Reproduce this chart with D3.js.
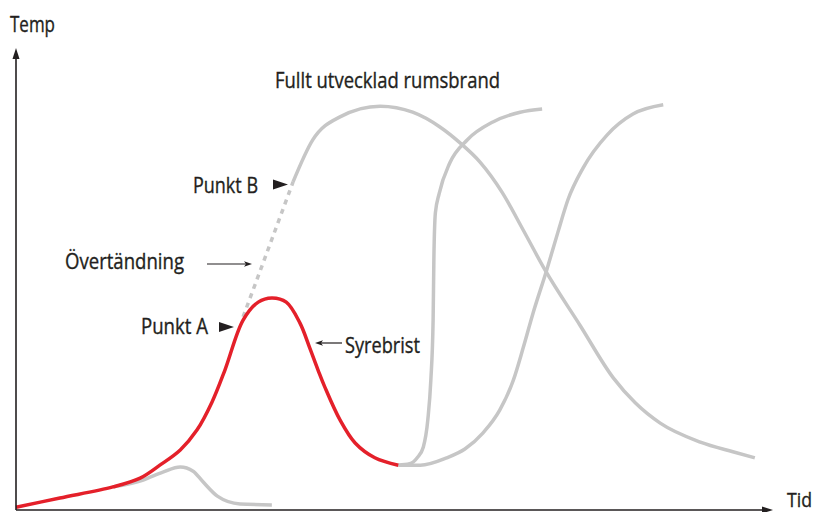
<!DOCTYPE html>
<html>
<head>
<meta charset="utf-8">
<script src="https://cdn.jsdelivr.net/npm/d3@7"></script>
<style>
  body { margin: 0; background: #fff; }
  text { font-family: "Open Sans", "Noto Sans", sans-serif; fill: #231f20; stroke: #231f20; stroke-width: 0.35px; }
</style>
</head>
<body>
<script>
// brandförlopp, tid (0-100) mot temp (0-100)
const growth = [[0,0.6],[5.8,2.6],[12.8,5.0],[16.4,6.9],[19.0,9.7],[21.7,13.0],[23.9,17.3],
  [25.9,23.4],[27.6,30.3],[30.0,41.1],[32.0,45.0],[33.8,45.9],[35.7,45.0],[37.5,40.5],
  [38.8,35.1],[39.9,30.3],[40.8,26.6],[42.8,19.5],[44.8,14.5],[47.4,11.3],[50.5,9.7]];
const smoulder = [[12.8,5.0],[16.8,6.5],[19.4,8.2],[21.7,9.3],[23.4,8.4],[24.7,6.1],
  [26.6,3.0],[29.6,1.3],[33.8,1.1]];
const flashover = [[30.0,41.8],[36.6,71.0]];
const fullyDeveloped = [[36.6,71.0],[39.2,80.1],[42.8,85.1],[48.1,87.4],[52.4,86.1],[56.0,82.9],
  [58.7,79.4],[61.3,75.3],[64.2,68.8],[67.0,60.6],[69.9,51.9],[74.5,40.0],[78.9,28.6],
  [81.8,23.2],[85.1,18.8],[90.4,14.7],[94.7,12.6],[97.6,11.3]];
const reignFast = [[50.5,9.7],[52.0,10.0],[53.0,11.3],[53.8,13.6],[54.4,19.5],[54.8,28.1],
  [55.1,41.1],[55.2,54.1],[55.4,64.3],[55.9,68.5],[57.3,75.1],[59.6,80.1],[63.0,84.0],
  [66.6,86.1],[69.5,86.8]];
const reignSlow = [[50.5,9.7],[53.4,9.7],[56.9,11.3],[59.3,13.2],[61.7,16.7],[63.9,21.6],
  [65.7,28.1],[67.0,35.1],[68.3,42.6],[70.1,51.9],[71.6,60.2],[72.9,67.1],[74.9,74.0],
  [78.1,81.2],[81.5,85.7],[85.5,87.7]];

const labels = ['Temp','Tid','Fullt utvecklad rumsbrand','Punkt B','Punkt A','Övertändning','Syrebrist'];

const width = 816, height = 512;
const grey = '#c6c6c6', red = '#e4202a', ink = '#231f20';

const x = d3.scaleLinear().domain([0,100]).range([16,773]);
const y = d3.scaleLinear().domain([0,100]).range([510,48]);

const svg = d3.select('body').append('svg')
  .attr('width',width).attr('height',height);

const line = d3.line()
  .x(d => x(d[0])).y(d => y(d[1]))
  .curve(d3.curveMonotoneX);
const smooth = d3.line()
  .x(d => x(d[0])).y(d => y(d[1]))
  .curve(d3.curveCatmullRom.alpha(0.5));

// grey curves first, red on top
[smoulder, fullyDeveloped, reignFast, reignSlow].forEach(s => {
  svg.append('path').attr('d',line(s))
    .attr('fill','none').attr('stroke',grey).attr('stroke-width',3.5);
});
svg.append('path').attr('d',d3.line().x(d=>x(d[0])).y(d=>y(d[1]))(flashover))
  .attr('fill','none').attr('stroke',grey).attr('stroke-width',3.5)
  .attr('stroke-dasharray','5,5');
svg.append('path').attr('d',smooth(growth))
  .attr('fill','none').attr('stroke',red).attr('stroke-width',3.5);

// axes with arrow heads
const x0 = x(0), y0 = y(0), xEnd = x(100), yEnd = y(100);
svg.append('line').attr('x1',x0).attr('y1',y0).attr('x2',xEnd-8).attr('y2',y0)
  .attr('stroke',ink).attr('stroke-width',1.6);
svg.append('line').attr('x1',x0).attr('y1',y0).attr('x2',x0).attr('y2',yEnd+8)
  .attr('stroke',ink).attr('stroke-width',1.6);
svg.append('path').attr('d',`M${xEnd},${y0} L${xEnd-11},${y0-3.5} L${xEnd-11},${y0+3.5} Z`).attr('fill',ink);
svg.append('path').attr('d',`M${x0},${yEnd} L${x0-3.5},${yEnd+11} L${x0+3.5},${yEnd+11} Z`).attr('fill',ink);

// text
const addText = (t, tx, ty, len, fs = 21) => svg.append('text')
  .attr('x',tx).attr('y',ty).attr('font-size',fs)
  .attr('textLength',len).attr('lengthAdjust','spacingAndGlyphs').text(t);

addText(labels[0], 10, 32, 45);
addText(labels[1], 787, 507, 25, 20);
addText(labels[2], 275, 88, 225);
addText(labels[3], 193, 193, 65);
addText(labels[4], 141, 334, 67);
addText(labels[5], 65, 269, 119);
addText(labels[6], 345, 353, 75);

// pointer triangles
const tri = (tx, ty) => svg.append('path')
  .attr('d',`M${tx},${ty} L${tx-15},${ty-5} L${tx-15},${ty+5} Z`).attr('fill',ink);
tri(288, 184.5);
tri(234, 327);

// thin arrows
const thinArrow = (xa, xb, ya) => {
  const dir = Math.sign(xb - xa);
  svg.append('line').attr('x1',xa).attr('y1',ya).attr('x2',xb - dir*3).attr('y2',ya)
    .attr('stroke',ink).attr('stroke-width',1.2);
  svg.append('path').attr('d',`M${xb},${ya} L${xb-dir*8},${ya-2.8} L${xb-dir*6},${ya} L${xb-dir*8},${ya+2.8} Z`)
    .attr('fill',ink);
};
thinArrow(207, 252, 264);
thinArrow(342, 315, 343);
</script>
</body>
</html>
